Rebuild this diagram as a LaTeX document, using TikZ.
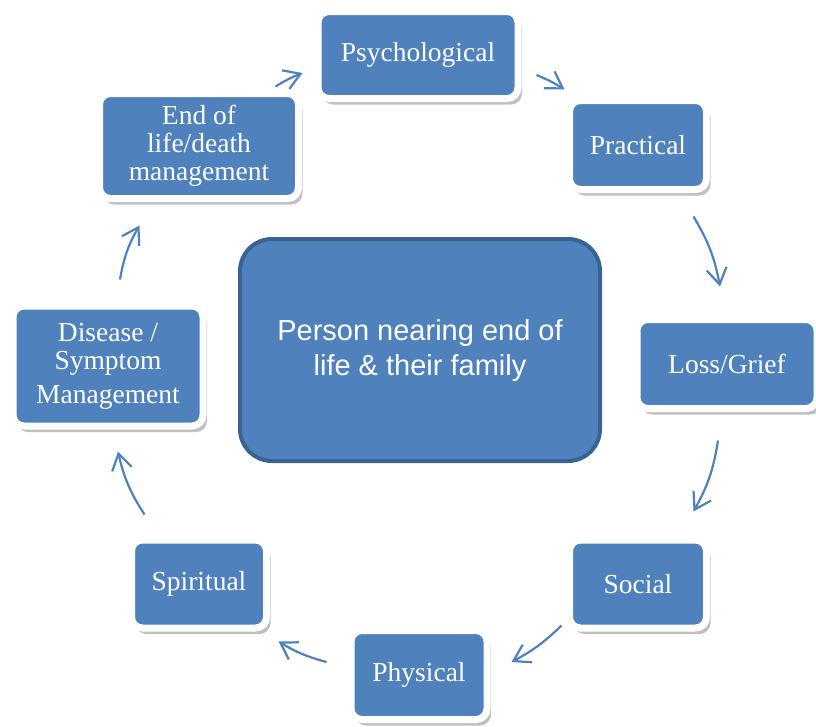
\documentclass[tikz,border=0pt]{standalone}
\usepackage{fontspec}
\usetikzlibrary{arrows.meta,shadows}
\newfontfamily\boxfont{Liberation Serif}
\newfontfamily\hubfont{Liberation Sans}
\definecolor{cardblue}{HTML}{4F81BD}
\definecolor{hubline}{HTML}{3A6395}
\definecolor{flowblue}{HTML}{4F81BD}

\begin{document}
\begin{tikzpicture}[x=1pt,y=-1pt,>={Straight Barb[length=16pt,width=20pt]},
  card/.style={draw=white,line width=7pt,fill=cardblue,rounded corners=11pt,text=white,align=center,
    font=\boxfont\fontsize{27.5}{28}\selectfont,inner sep=0pt,
    drop shadow={shadow xshift=4pt,shadow yshift=-6pt,fill=black!55,opacity=.45}},
  hub/.style={draw=hubline,line width=4pt,fill=cardblue,rounded corners=32pt,text=white,align=center,
    font=\hubfont\fontsize{29}{35}\selectfont,minimum width=360pt,minimum height=222pt},
  flow/.style={->,flowblue,line width=2.2pt}]
\useasboundingbox (0,0) rectangle (816,726);
\node[hub] (hub) at (420,350) {Person nearing end of\\life \& their family};
\node[card,minimum width=200pt,minimum height=87pt] (psy) at (418,55) {Psychological};
\node[card,minimum width=137pt,minimum height=89pt] (prac) at (638,145) {Practical};
\node[card,minimum width=180pt,minimum height=89pt] (loss) at (727,364) {Loss/Grief};
\node[card,minimum width=137pt,minimum height=88pt] (soc) at (638,584) {Social};
\node[card,minimum width=136pt,minimum height=89pt] (phys) at (419,675) {Physical};
\node[card,minimum width=135pt,minimum height=88pt] (spir) at (199,584) {Spiritual};
\node[card,minimum width=190pt,minimum height=120pt] (dis) at (108,366) {Disease /\\Symptom\\[6pt]Management};
\node[card,minimum width=199pt,minimum height=105pt] (eol) at (199,146) {End of\\life/death\\management};
% cycle of care
\draw[flow] ([shift={(15,20)}]psy.east) to[bend left=5] ([shift={(-1.5,-7.5)}]prac.north west);
\draw[flow] ([shift={(-16.5,23.5)}]prac.south east) to[bend left=10] ([shift={(-7,-29.5)}]loss.north);
\draw[flow] ([shift={(-9,28.5)}]loss.south) to[bend left=10] ([shift={(-16.5,-25)}]soc.north east);
\draw[flow] ([shift={(-4.5,-6)}]soc.south west) to[bend left=8] ([shift={(21,-13)}]phys.east);
\draw[flow] ([shift={(-21,-13)}]phys.west) to[bend left=8] ([shift={(8.5,10)}]spir.south east);
\draw[flow] ([shift={(16.5,-22)}]spir.north west) to[bend left=10] ([shift={(10,22)}]dis.south);
\draw[flow] ([shift={(12,-23)}]dis.north) to[bend left=10] ([shift={(43.5,23.5)}]eol.south west);
\draw[flow] ([shift={(-26.5,-3.5)}]eol.north east) to[bend left=5] ([shift={(-12,18)}]psy.west);
\end{tikzpicture}
\end{document}
